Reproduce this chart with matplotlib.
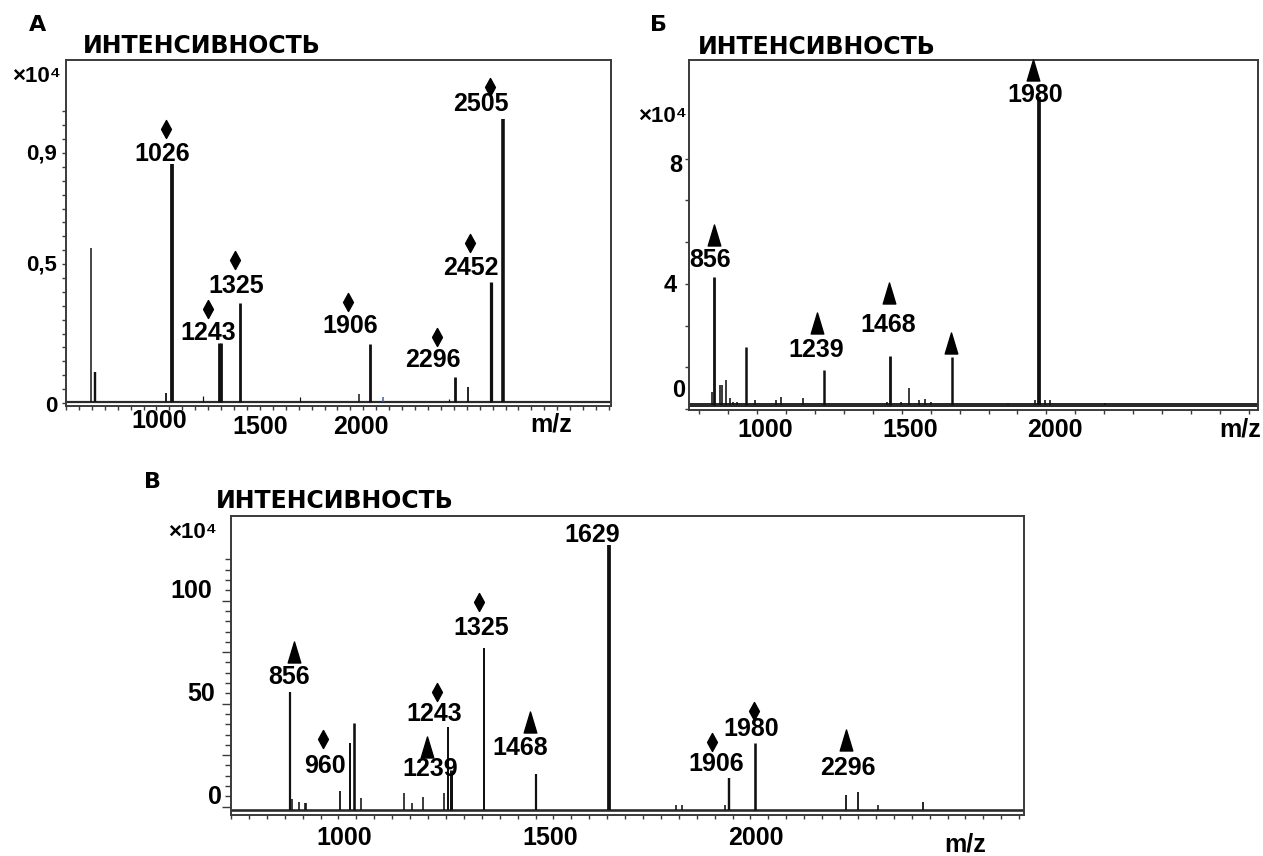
import numpy as np
import matplotlib
matplotlib.use("Agg")
import matplotlib.pyplot as plt
from matplotlib.path import Path
import matplotlib.transforms as mtransforms

# ======================= DATA =======================
# Panel А  (m/z on the printed axis scale, intensity x10^4)
A_mz = [663, 683, 1034, 1066, 1219, 1298, 1310, 1400, 1698, 1990, 2046, 2112, 2439, 2468, 2532, 2644, 2703]
A_int = [0.558, 0.112, 0.036, 0.860, 0.025, 0.216, 0.216, 0.360, 0.022, 0.032, 0.212, 0.020, 0.014, 0.094, 0.058, 0.436, 1.022]
A_labels = ["1026", "1243", "1325", "1906", "2296", "2452", "2505"]
A_marks = ["d", "d", "d", "d", "d", "d", "d"]

# Panel Б
B_mz = [843, 852, 872, 880, 893, 907, 917, 930, 961, 993, 1033, 1066, 1082, 1158, 1233,
        1449, 1461, 1498, 1525, 1558, 1579, 1601, 1673, 1867, 1960, 1976, 1995, 2012, 2201, 2285]
B_int = [0.55, 4.23, 0.77, 0.77, 0.93, 0.35, 0.23, 0.23, 1.99, 0.29, 0.13, 0.29, 0.39, 0.35, 1.25,
         0.22, 1.69, 0.22, 0.67, 0.29, 0.31, 0.22, 1.67, 0.16, 0.29, 9.98, 0.29, 0.29, 0.18, 0.13]
B_labels = ["856", "1239", "1468", "", "1980"]
B_marks = ["^", "^", "^", "^", "^"]

# Panel В
V_mz = [869, 872, 890, 905, 908, 989, 1014, 1023, 1041, 1145, 1164, 1191, 1243, 1252, 1258,
        1340, 1466, 1643, 1805, 1819, 1925, 1934, 1997, 2219, 2247, 2295, 2404]
V_int = [55.7, 3.6, 2.4, 1.8, 1.8, 7.6, 30.8, 40.5, 4.1, 6.8, 1.6, 4.9, 6.5, 38.8, 17.8,
         76.9, 15.9, 127.0, 0.8, 0.8, 0.8, 13.8, 30.8, 5.7, 7.3, 0.8, 2.4]
V_labels = ["856", "960", "1243", "1239", "1325", "1468", "1629", "1906", "1980", "2296"]
V_marks = ["^", "d", "d", "^", "d", "^", "", "d", "d", "^"]

TITLE_TEXT = "ИНТЕНСИВНОСТЬ"
XTICK_LABELS = ["1000", "1500", "2000"]
A_ytick_labels = ["0", "0,5", "0,9"]
B_ytick_labels = ["0", "4", "8"]
V_ytick_labels = ["0", "50", "100"]

# ======================= LAYOUT (annotation placement) =======================
A_mark_xy = [(1034, 0.986), (1244, 0.338), (1376, 0.515), (1937, 0.364), (2376, 0.238), (2542, 0.576), (2639, 1.138)]
A_text_xy = [(1015, 0.896), (1244, 0.252), (1385, 0.421), (1946, 0.277), (2356, 0.155), (2546, 0.486), (2595, 1.076)]
B_mark_xy = [(853, 5.56), (1207, 2.75), (1456, 3.71), (1670, 2.11), (1952, 10.83)]
B_text_xy = [(838, 4.76), (1204, 1.88), (1452, 2.68), (0, 0), (1962, 10.03)]
V_mark_xy = [(878, 75.2), (949, 32.7), (1226, 55.8), (1202, 29.1), (1326, 99.5), (1451, 41.3), (0, 0),
             (1893, 31.6), (1994, 46.6), (2219, 32.4)]
V_text_xy = [(867, 63.1), (953, 19.8), (1219, 45.0), (1209, 18.2), (1333, 86.6), (1427, 28.3), (1601, 131.9),
             (1904, 20.7), (1987, 37.6), (2223, 18.6)]

# line widths (pixels)
A_lw = [1.5, 2.4, 1.8, 3.8, 1.2, 2.8, 2.8, 2.8, 1.2, 1.5, 2.8, 1.5, 1.2, 2.8, 1.8, 3.2, 3.6]
A_col = ["#111"] * 11 + ["#3a55c8"] + ["#111"] * 5
B_lw = [1.6, 2.8, 1.6, 1.6, 1.6, 1.6, 1.6, 1.6, 2.5, 1.6, 1.5, 1.6, 1.6, 1.6, 2.5,
        1.6, 2.8, 1.6, 1.6, 1.6, 1.6, 1.6, 2.5, 1.6, 1.6, 3.8, 1.6, 1.6, 1.6, 1.6]
V_lw = [2.2, 1.6, 1.6, 1.6, 1.6, 1.8, 2.0, 2.6, 1.6, 1.6, 1.6, 1.6, 1.6, 2.0, 3.0,
        2.0, 2.2, 3.8, 1.6, 1.6, 1.6, 2.4, 2.6, 1.8, 1.8, 1.6, 1.8]

# ======================= FIGURE =======================
W, H, DPI = 1263, 856, 100
fig = plt.figure(figsize=(W / DPI, H / DPI), dpi=DPI)
fig.patch.set_facecolor("white")

NUM = dict(family=["Liberation Sans", "DejaVu Sans"], weight="bold", color="black")
TTL = dict(family=["DejaVu Sans"], weight="bold", color="black")


def pt(v):
    return v * 72.0 / DPI


TRI = Path([(0, 1), (-0.6, -1), (0.6, -1), (0, 1)],
           [Path.MOVETO, Path.LINETO, Path.LINETO, Path.CLOSEPOLY])
DIA = Path([(0, 1), (0.55, 0), (0, -1), (-0.55, 0), (0, 1)],
           [Path.MOVETO, Path.LINETO, Path.LINETO, Path.LINETO, Path.CLOSEPOLY])
MARKER = {"^": (TRI, pt(21)), "d": (DIA, pt(18))}
SPINE = "#3a3a3a"


def make_axes(l, t, r, b, xlim, ylim):
    ax = fig.add_axes([l / W, 1 - b / H, (r - l) / W, (b - t) / H])
    ax.set_xlim(*xlim)
    ax.set_ylim(*ylim)
    for s in ax.spines.values():
        s.set_linewidth(1.4)
        s.set_color(SPINE)
    ax.tick_params(which="both", labelbottom=False, labelleft=False, direction="out",
                   color=SPINE, width=1.0, top=False, right=False)
    ax.set_facecolor("white")
    return ax


def xlab(ax, val, s, dy_px, dx_px=0, size=18):
    tr = mtransforms.blended_transform_factory(ax.transData, ax.transAxes)
    tr = mtransforms.offset_copy(tr, fig=fig, x=pt(dx_px), y=-pt(dy_px), units="points")
    ax.text(val, 0, s, transform=tr, ha="center", va="baseline", fontsize=size, clip_on=False, **NUM)


def ylab(ax, val, s, dx_px, dy_px, size=16):
    tr = mtransforms.blended_transform_factory(ax.transAxes, ax.transData)
    tr = mtransforms.offset_copy(tr, fig=fig, x=pt(dx_px), y=-pt(dy_px), units="points")
    ax.text(0, val, s, transform=tr, ha="right", va="baseline", fontsize=size, clip_on=False, **NUM)


def peaks(ax, mz, inten, base, lws, cols=None, base_lw=2.2):
    if cols is None:
        cols = ["#111"] * len(mz)
    ax.axhline(base, color="#2a2a2a", lw=pt(base_lw), zorder=2)
    ax.vlines(mz, base, inten, colors=cols, linewidths=[pt(w) for w in lws], zorder=3)


def annotate(ax, labels, marks, mark_xy, text_xy):
    for lab, m, mxy, txy in zip(labels, marks, mark_xy, text_xy):
        if m:
            path, ms = MARKER[m]
            ax.plot([mxy[0]], [mxy[1]], marker=path, ms=ms, color="black", ls="none",
                    zorder=5, clip_on=False)
        if lab:
            ax.text(txy[0], txy[1], lab, ha="center", va="center", fontsize=18, zorder=6, **NUM)


def ftext(x, y, s, size, ha="left", va="baseline", **kw):
    fig.text(x / W, 1 - y / H, s, ha=ha, va=va, fontsize=size, **kw)


# ----------------------- Panel А -----------------------
axA = make_axes(66, 60, 611, 406, (580.5, 3239), (-0.0108, 1.2347))
peaks(axA, A_mz, A_int, 0.003, A_lw, A_col)
annotate(axA, A_labels, A_marks, A_mark_xy, A_text_xy)
axA.set_xticks(np.arange(989 - 64 * 7, 3239, 64))
axA.set_yticks(np.arange(0, 1.06, 0.05))
axA.tick_params(axis="x", length=pt(3.5))
axA.tick_params(axis="y", length=pt(4.5))
for v, s, dy in zip([1000, 1500, 2000], XTICK_LABELS, [22, 28, 28]):
    xlab(axA, v, s, dy)
for v, s, dy in zip([0, 0.5, 0.9], A_ytick_labels, [9, 6, 7]):
    ylab(axA, v, s, -9, dy)
ftext(551, 431, "m/z", 18, ha="center", **NUM)
ftext(38, 31, "А", 16, ha="center", **TTL)
ftext(83, 53, TITLE_TEXT, 17, **TTL)
ftext(12, 82, "×10⁴", 16, **NUM)

# ----------------------- Panel Б -----------------------
axB = make_axes(689, 60, 1258, 410, (765, 2731), (-0.032, 11.15))
peaks(axB, B_mz, B_int, 0.128, B_lw, base_lw=4.0)
annotate(axB, B_labels, B_marks, B_mark_xy, B_text_xy)
axB.set_xticks(np.arange(800, 2731, 100))
axB.set_yticks(np.arange(0, 8.01, 4 / 3))
axB.tick_params(axis="x", length=pt(3.5))
axB.tick_params(axis="y", length=pt(4.5))
for v, s in zip([1000, 1500, 2000], XTICK_LABELS):
    xlab(axB, v, s, 27, dx_px=8)
for v, s, dx, dy in zip([0, 4, 8], B_ytick_labels, [-4, -12, -7], [-12, 8, 13]):
    ylab(axB, v, s, dx, dy, size=17)
ftext(1240, 437, "m/z", 18, ha="center", **NUM)
ftext(659, 31, "Б", 16, ha="center", **TTL)
ftext(698, 54, TITLE_TEXT, 17, **TTL)
ftext(638, 122, "×10⁴", 16, zorder=0, **NUM)

# ----------------------- Panel В -----------------------
axV = make_axes(231, 516, 1024, 815, (734, 2650), (-4.03, 141.1))
peaks(axV, V_mz, V_int, -1.6, V_lw, base_lw=2.6)
annotate(axV, V_labels, V_marks, V_mark_xy, V_text_xy)
axV.set_xticks(np.arange(986 - 43.48 * 6, 2650, 43.48))
axV.set_yticks(np.arange(0, 101, 25))
axV.set_yticks(np.arange(0, 121, 5), minor=True)
axV.tick_params(axis="x", length=pt(3.5))
axV.tick_params(axis="y", which="major", length=pt(9))
axV.tick_params(axis="y", which="minor", length=pt(6))
for v, s in zip([1000, 1500, 2000], XTICK_LABELS):
    xlab(axV, v, s, 30)
for v, s, dx in zip([0, 50, 100], V_ytick_labels, [-9, -16, -19]):
    ylab(axV, v, s, dx, -3, size=18)
ftext(965, 851, "m/z", 18, ha="center", **NUM)
ftext(152, 488, "В", 16, ha="center", **TTL)
ftext(216, 508, TITLE_TEXT, 17, **TTL)
ftext(168, 538, "×10⁴", 16, **NUM)

fig.savefig("out.png", dpi=DPI, facecolor="white")
